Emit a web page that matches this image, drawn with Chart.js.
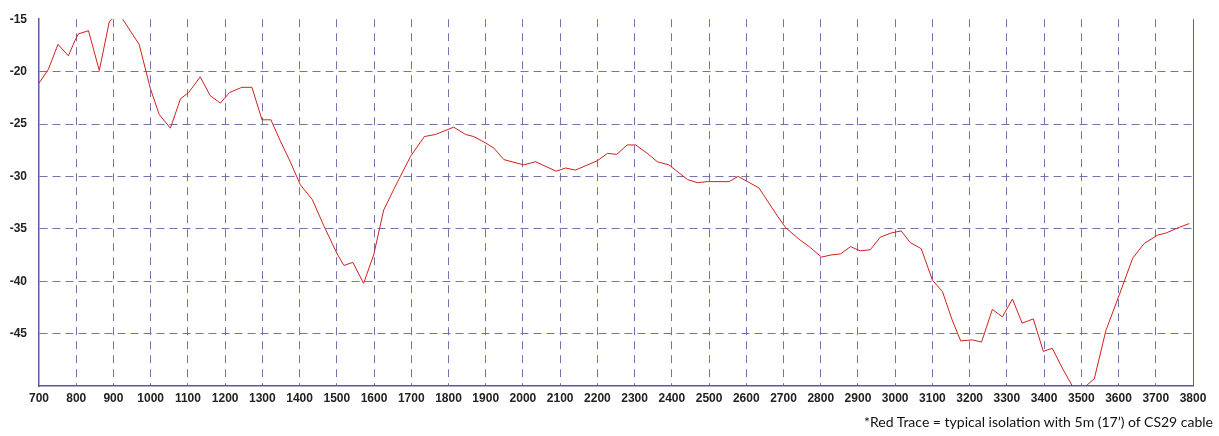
<!DOCTYPE html>
<html lang="en">
<head>
<meta charset="UTF-8">
<title>Isolation vs frequency</title>
<script src="https://cdn.jsdelivr.net/npm/chart.js"></script>
<style>
  body {
    margin: 0;
    background-color: #fff;
  }
  .wrap {
    position: relative;
    width: 1219px;
    height: 436px;
  }
  #chart {
    position: absolute;
    left: 0;
    top: 0;
  }
  .note {
    position: absolute;
    right: 6px;
    top: 413px;
    font-family: Lato, "Open Sans", sans-serif;
    font-size: 14px;
    color: #111;
    white-space: nowrap;
  }
</style>
</head>
<body>

<div class="wrap">
  <canvas id="chart" width="1219" height="436"></canvas>
  <div class="note">*Red Trace = typical isolation with 5m (17’) of CS29 cable</div>
</div>

<script>
  // frequency points (x) and trace level (y)
  const freqs = [
    700, 725, 751, 779, 797, 806, 833, 862, 889, 900, 912, 921, 969, 999,
    1023, 1053, 1080, 1102, 1133, 1160, 1187, 1212, 1245, 1272, 1299, 1323,
    1348, 1375, 1402, 1434, 1465, 1501, 1519, 1543, 1572, 1599, 1626, 1662,
    1698, 1735, 1765, 1814, 1846, 1868, 1899, 1922, 1949, 2002, 2034, 2089,
    2115, 2141, 2200, 2227, 2252, 2280, 2303, 2334, 2361, 2392, 2442, 2469,
    2495, 2554, 2578, 2634, 2684, 2706, 2742, 2769, 2802, 2827, 2853, 2880,
    2906, 2933, 2960, 2989, 3016, 3040, 3070, 3100, 3127, 3154, 3176, 3207,
    3232, 3261, 3288, 3315, 3341, 3371, 3398, 3422, 3449, 3479, 3506, 3535,
    3566, 3602, 3638, 3669, 3705, 3728, 3760, 3790
  ];
  const levels = [
    -21.1, -19.8, -17.4, -18.5, -17.0, -16.4, -16.1, -19.9, -15.2, -14.9, -14.2, -14.8, -17.4, -21.6,
    -24.1, -25.4, -22.6, -22.0, -20.5, -22.3, -23.0, -22.0, -21.5, -21.5, -24.6, -24.6,
    -26.6, -28.6, -30.8, -32.2, -34.7, -37.4, -38.5, -38.2, -40.2, -37.5, -33.2, -30.6,
    -28.1, -26.2, -26.0, -25.3, -26.0, -26.2, -26.8, -27.3, -28.4, -28.9, -28.6, -29.5,
    -29.2, -29.4, -28.5, -27.8, -27.9, -27.0, -27.0, -27.8, -28.6, -28.9, -30.3, -30.6,
    -30.5, -30.5, -30.0, -31.1, -33.8, -34.9, -36.0, -36.7, -37.7, -37.5, -37.4, -36.7,
    -37.1, -37.0, -35.8, -35.4, -35.2, -36.3, -36.9, -39.9, -41.0, -43.8, -45.7, -45.6,
    -45.8, -42.7, -43.4, -41.7, -44.0, -43.6, -46.7, -46.4, -48.3, -50.2, -50.2, -49.3,
    -44.7, -41.3, -37.8, -36.4, -35.6, -35.4, -34.9, -34.5
  ];

  const xMin = 700, xMax = 3800, xStep = 100;
  const yMin = -50, yMax = -15, yStep = 5;

  const gridColor = '#7474aa';
  const axisColor = '#5c5c98';
  const labelFont = { family: '"Liberation Sans", Arial, sans-serif', size: 12, weight: 'bold' };

  // solid frame line on the right like the original plot
  const rightBorder = {
    id: 'rightBorder',
    afterDraw(chart) {
      const a = chart.chartArea;
      const ctx = chart.ctx;
      ctx.save();
      ctx.strokeStyle = axisColor;
      ctx.lineWidth = 1;
      ctx.beginPath();
      ctx.moveTo(a.right + 0.5, a.top);
      ctx.lineTo(a.right + 0.5, a.bottom);
      ctx.stroke();
      ctx.restore();
    }
  };

  const ctx = document.getElementById('chart').getContext('2d');
  new Chart(ctx, {
    type: 'line',
    data: {
      datasets: [{
        data: freqs.map((f, i) => ({ x: f, y: levels[i] })),
        borderColor: '#d02020',
        borderWidth: 1,
        pointRadius: 0,
        tension: 0,
        fill: false
      }]
    },
    options: {
      responsive: false,
      animation: false,
      layout: { padding: { left: 0, right: 26, top: 13, bottom: 0 } },
      plugins: {
        legend: { display: false },
        tooltip: { enabled: false }
      },
      scales: {
        x: {
          type: 'linear',
          min: xMin,
          max: xMax,
          afterFit(scale) { scale.height = 50; },
          ticks: {
            stepSize: xStep,
            autoSkip: false,
            maxRotation: 0,
            padding: 5,
            color: '#222',
            font: labelFont,
            callback: v => String(v)
          },
          grid: {
            drawTicks: false,
            color: c => (c.tick && (c.tick.value === xMin || c.tick.value === xMax)) ? 'rgba(0,0,0,0)' : gridColor,
            lineWidth: 1
          },
          border: { color: axisColor, width: 1.5, dash: [8, 6] }
        },
        y: {
          min: yMin,
          max: yMax,
          afterFit(scale) { scale.width = 39; },
          ticks: {
            stepSize: yStep,
            padding: 12,
            color: '#222',
            font: labelFont,
            callback: v => (v === yMin ? '' : String(v))
          },
          grid: {
            drawTicks: false,
            color: c => (c.tick && (c.tick.value === yMin || c.tick.value === yMax)) ? 'rgba(0,0,0,0)' : gridColor,
            lineWidth: 1
          },
          border: { color: axisColor, width: 1.5, dash: [8, 5] }
        }
      }
    },
    plugins: [rightBorder]
  });
</script>

</body>
</html>
